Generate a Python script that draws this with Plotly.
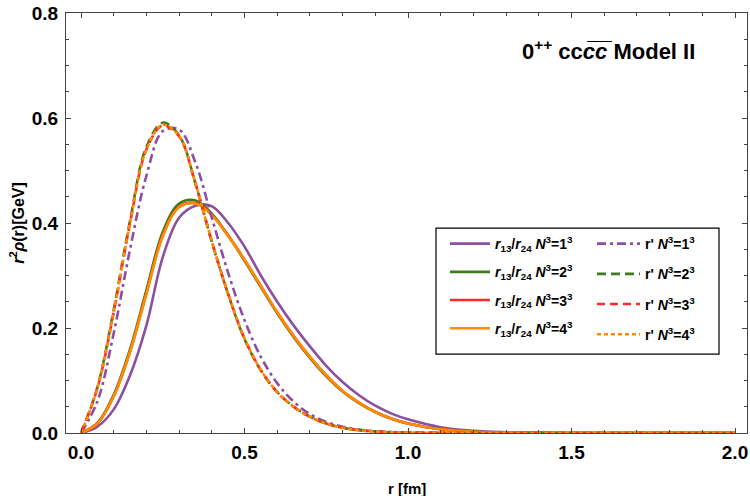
import plotly.graph_objects as go

# ---------------- data ----------------
r = [0.0, 0.05, 0.1, 0.15, 0.2, 0.25, 0.3, 0.35, 0.4, 0.45, 0.5, 0.55, 0.6, 0.65,
     0.7, 0.75, 0.8, 0.85, 0.9, 0.95, 1.0, 1.1, 1.2, 1.3, 1.4, 1.5, 1.75, 2.0]

solid_n1 = [0, 0.012, 0.045, 0.11, 0.205, 0.335, 0.41, 0.433, 0.432, 0.40, 0.355, 0.30, 0.25, 0.205,
            0.165, 0.128, 0.097, 0.072, 0.052, 0.037, 0.026, 0.011, 0.004, 0.0014, 0.0004, 0.0001, 0, 0]
solid_n2 = [0, 0.019, 0.073, 0.16, 0.272, 0.383, 0.437, 0.443, 0.418, 0.376, 0.328, 0.278, 0.228, 0.183,
            0.143, 0.108, 0.079, 0.057, 0.04, 0.027, 0.018, 0.007, 0.0025, 0.0008, 0.0002, 0.0001, 0, 0]
solid_n3 = [0, 0.018, 0.07, 0.155, 0.266, 0.376, 0.431, 0.438, 0.416, 0.376, 0.33, 0.28, 0.23, 0.185,
            0.145, 0.11, 0.08, 0.058, 0.04, 0.027, 0.018, 0.007, 0.0025, 0.0008, 0.0002, 0.0001, 0, 0]
solid_n4 = [0, 0.018, 0.07, 0.155, 0.265, 0.375, 0.43, 0.437, 0.415, 0.375, 0.33, 0.28, 0.23, 0.185,
            0.145, 0.11, 0.08, 0.058, 0.04, 0.027, 0.018, 0.007, 0.0025, 0.0008, 0.0002, 0.0001, 0, 0]

prime_n1 = [0, 0.06, 0.19, 0.35, 0.49, 0.575, 0.578, 0.515, 0.41, 0.305, 0.215, 0.145, 0.095, 0.06,
            0.036, 0.021, 0.012, 0.0065, 0.0035, 0.0018, 0.0009, 0.0002, 0, 0, 0, 0, 0, 0]
prime_n2 = [0, 0.087, 0.235, 0.405, 0.545, 0.591, 0.567, 0.475, 0.364, 0.264, 0.179, 0.119, 0.078, 0.05,
            0.031, 0.018, 0.01, 0.0055, 0.003, 0.0015, 0.0008, 0.0002, 0, 0, 0, 0, 0, 0]
prime_n3 = [0, 0.085, 0.23, 0.40, 0.54, 0.586, 0.565, 0.475, 0.365, 0.265, 0.18, 0.12, 0.078, 0.05,
            0.031, 0.018, 0.01, 0.0055, 0.003, 0.0015, 0.0008, 0.0002, 0, 0, 0, 0, 0, 0]
prime_n4 = [0, 0.085, 0.23, 0.40, 0.54, 0.587, 0.566, 0.475, 0.365, 0.265, 0.18, 0.12, 0.078, 0.05,
            0.031, 0.018, 0.01, 0.0055, 0.003, 0.0015, 0.0008, 0.0002, 0, 0, 0, 0, 0, 0]

solid_names = [
    "<i>r</i><sub>13</sub>/<i>r</i><sub>24</sub> <i>N</i><sup>3</sup>=1<sup>3</sup>",
    "<i>r</i><sub>13</sub>/<i>r</i><sub>24</sub> <i>N</i><sup>3</sup>=2<sup>3</sup>",
    "<i>r</i><sub>13</sub>/<i>r</i><sub>24</sub> <i>N</i><sup>3</sup>=3<sup>3</sup>",
    "<i>r</i><sub>13</sub>/<i>r</i><sub>24</sub> <i>N</i><sup>3</sup>=4<sup>3</sup>",
]
prime_names = [
    "r' <i>N</i><sup>3</sup>=1<sup>3</sup>",
    "r' <i>N</i><sup>3</sup>=2<sup>3</sup>",
    "r' <i>N</i><sup>3</sup>=3<sup>3</sup>",
    "r' <i>N</i><sup>3</sup>=4<sup>3</sup>",
]
x_ticks = [0.0, 0.5, 1.0, 1.5, 2.0]
y_ticks = [0.0, 0.2, 0.4, 0.6, 0.8]
x_title = "<b>r [fm]</b>"
y_title = "<b><i>r</i><sup>2</sup><i>ρ</i>(r)[GeV]</b>"
plot_title = "<b>0<sup>++</sup> cc<i>c\u0305c\u0305</i> Model II</b>"

# ---------------- styles ----------------
colors = ["#8B4FA3", "#3D7D1C", "#FF2A2A", "#FF8C00"]
prime_dash = ["9px,4px,3px,4px", "9px,5px", "8px,5px", "4px,3px"]
FONT = "Liberation Sans, Arial, sans-serif"

fig = go.Figure()
solid_sets = [solid_n1, solid_n2, solid_n3, solid_n4]
prime_sets = [prime_n1, prime_n2, prime_n3, prime_n4]

for i in range(4):
    fig.add_trace(go.Scatter(
        x=r, y=solid_sets[i], mode="lines", name=solid_names[i],
        line=dict(color=colors[i], width=2.6, shape="spline", smoothing=1.0),
        legend="legend", legendgroup=f"s{i}",
    ))
for i in range(4):
    fig.add_trace(go.Scatter(
        x=r, y=prime_sets[i], mode="lines", name=prime_names[i],
        line=dict(color=colors[i], width=2.6, dash=prime_dash[i], shape="spline", smoothing=1.0),
        legend="legend2", legendgroup=f"p{i}",
    ))

axis_common = dict(
    showgrid=False, zeroline=False, showline=True, linecolor="#444", linewidth=1,
    mirror="allticks", ticks="inside", ticklen=5, tickcolor="#444", tickwidth=1,
    tickfont=dict(family=FONT, size=19, color="black", weight="bold"),
)

fig.update_xaxes(
    range=[-0.0459, 2.0367], tickvals=x_ticks, ticktext=[f"{v:.1f}" for v in x_ticks],
    minor=dict(ticks="inside", ticklen=3, dtick=0.1, tick0=0, tickcolor="#444"),
    ticklabelstandoff=2,
    **axis_common,
)
fig.update_yaxes(
    range=[0, 0.8], tickvals=y_ticks, ticktext=[f"{v:.1f}" for v in y_ticks],
    minor=dict(ticks="inside", ticklen=3, dtick=0.05, tick0=0, tickcolor="#444"),
    ticklabelstandoff=3,
    title=dict(text=y_title, font=dict(family=FONT, size=16, color="black"), standoff=3),
    **axis_common,
)

# x-axis title (placed below the tick labels)
fig.add_annotation(
    text=x_title, xref="paper", yref="paper", x=0.5, y=-0.131,
    xanchor="center", yanchor="middle", showarrow=False,
    font=dict(family=FONT, size=15, color="black"),
)

fig.add_annotation(
    text=plot_title,
    xref="paper", yref="paper", x=0.797, y=0.912, xanchor="center", yanchor="middle",
    showarrow=False, font=dict(family=FONT, size=22, color="black"),
)

# legend frame
fig.add_shape(
    type="rect", xref="paper", yref="paper",
    x0=0.5433, x1=0.9589, y0=0.188, y1=0.488,
    line=dict(color="black", width=1.2), fillcolor="white", layer="above",
)

legend_common = dict(
    orientation="v", xanchor="left", yanchor="top",
    borderwidth=0, bgcolor="rgba(0,0,0,0)",
    font=dict(family=FONT, size=14, color="black", weight="bold"),
)

fig.update_layout(
    width=750, height=496,
    margin=dict(l=66, r=3, t=13, b=63),
    paper_bgcolor="white", plot_bgcolor="white",
    showlegend=True,
    legend=dict(x=0.5565, y=0.4880, tracegroupgap=7, itemwidth=40, **legend_common),
    legend2=dict(x=0.7724, y=0.4880, tracegroupgap=9, itemwidth=43, **legend_common),
)

fig.write_html("out.html")
